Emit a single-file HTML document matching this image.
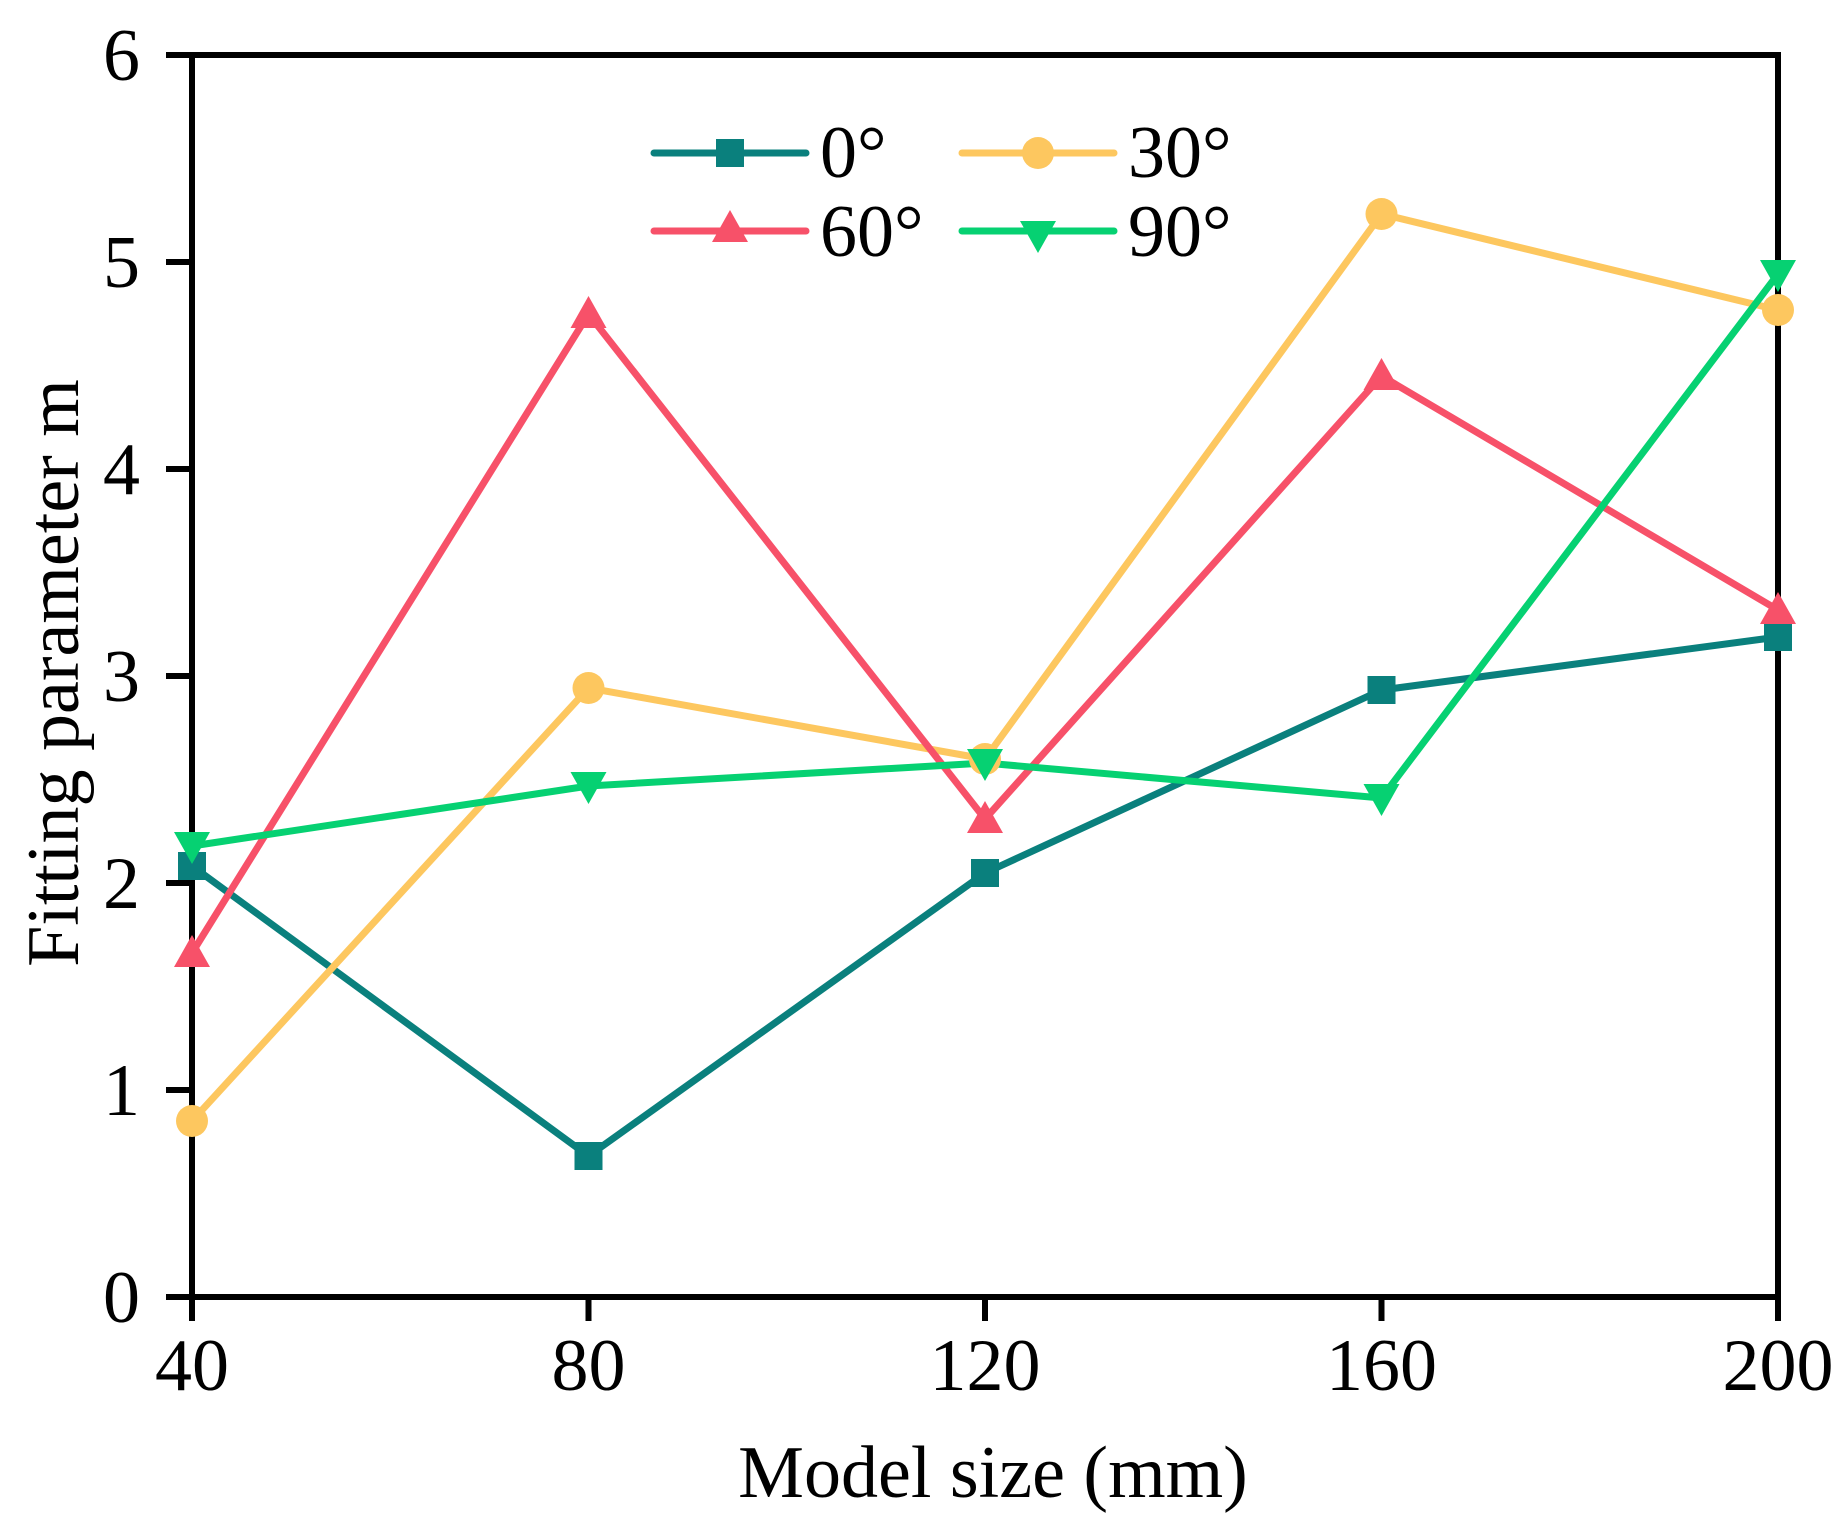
<!DOCTYPE html>
<html><head><meta charset="utf-8"><style>body{margin:0;background:#fff}svg{display:block}</style></head><body>
<svg width="1842" height="1536" xmlns="http://www.w3.org/2000/svg" style="font-family:'Liberation Serif', 'DejaVu Serif', serif">
<rect width="1842" height="1536" fill="#fff"/>
<g stroke="#000" stroke-width="6" fill="none">
<rect x="192" y="55" width="1586" height="1242"/>
<path d="M192 1297v24M588.5 1297v24M985 1297v24M1381.5 1297v24M1778 1297v24"/>
<path d="M166 1297h26M166 1090h26M166 883h26M166 676h26M166 469h26M166 262h26M166 55h26"/>
</g>
<g font-size="74" text-anchor="end" fill="#000">
<text x="140" y="1322">0</text><text x="140" y="1115">1</text><text x="140" y="908">2</text><text x="140" y="701">3</text><text x="140" y="494">4</text><text x="140" y="287">5</text><text x="140" y="80">6</text>
</g>
<g font-size="74" text-anchor="middle" fill="#000">
<text x="192" y="1390">40</text><text x="588.5" y="1390">80</text><text x="985" y="1390">120</text><text x="1381.5" y="1390">160</text><text x="1778" y="1390">200</text>
<text x="993" y="1497">Model size (mm)</text>
<text transform="translate(78,673) rotate(-90)">Fitting parameter m</text>
</g>
<g stroke-width="7" fill="none" stroke-linejoin="round" stroke-linecap="round">
<polyline stroke="#0a807d" points="192,866 588.5,1156 985,873 1381.5,690 1778,637"/>
<polyline stroke="#fdc75f" points="192,1121 588.5,688 985,759 1381.5,214 1778,310"/>
<polyline stroke="#f75169" points="192,953 588.5,314 985,819 1381.5,376 1778,610"/>
<polyline stroke="#06d172" points="192,846 588.5,786 985,763 1381.5,798 1778,274"/>
</g>
<g fill="#0a807d">
<rect x="178" y="852" width="28" height="28"/><rect x="574.5" y="1142" width="28" height="28"/><rect x="971" y="859" width="28" height="28"/><rect x="1367.5" y="676" width="28" height="28"/><rect x="1764" y="623" width="28" height="28"/>
</g>
<g fill="#fdc75f">
<circle cx="192" cy="1121" r="16"/><circle cx="588.5" cy="688" r="16"/><circle cx="985" cy="759" r="16"/><circle cx="1381.5" cy="214" r="16"/><circle cx="1778" cy="310" r="16"/>
</g>
<g fill="#f75169">
<path d="M192 935l-18 32h36z"/><path d="M588.5 296l-18 32h36z"/><path d="M985 801l-18 32h36z"/><path d="M1381.5 358l-18 32h36z"/><path d="M1778 592l-18 32h36z"/>
</g>
<g fill="#06d172">
<path d="M192 864l-18 -32h36z"/><path d="M588.5 804l-18 -32h36z"/><path d="M985 781l-18 -32h36z"/><path d="M1381.5 816l-18 -32h36z"/><path d="M1778 292l-18 -32h36z"/>
</g>
<g stroke-width="7" stroke-linecap="round">
<line x1="654" y1="153" x2="806" y2="153" stroke="#0a807d"/>
<line x1="962" y1="153" x2="1114" y2="153" stroke="#fdc75f"/>
<line x1="654" y1="231" x2="806" y2="231" stroke="#f75169"/>
<line x1="962" y1="231" x2="1114" y2="231" stroke="#06d172"/>
</g>
<rect x="716" y="139" width="28" height="28" fill="#0a807d"/>
<circle cx="1038" cy="153" r="16" fill="#fdc75f"/>
<path d="M730 210l-18 32h36z" fill="#f75169"/>
<path d="M1038 253l-18 -32h36z" fill="#06d172"/>
<g font-size="74" fill="#000">
<text x="820" y="177">0°</text><text x="1128" y="177">30°</text>
<text x="820" y="256">60°</text><text x="1128" y="256">90°</text>
</g>
</svg>
</body></html>
